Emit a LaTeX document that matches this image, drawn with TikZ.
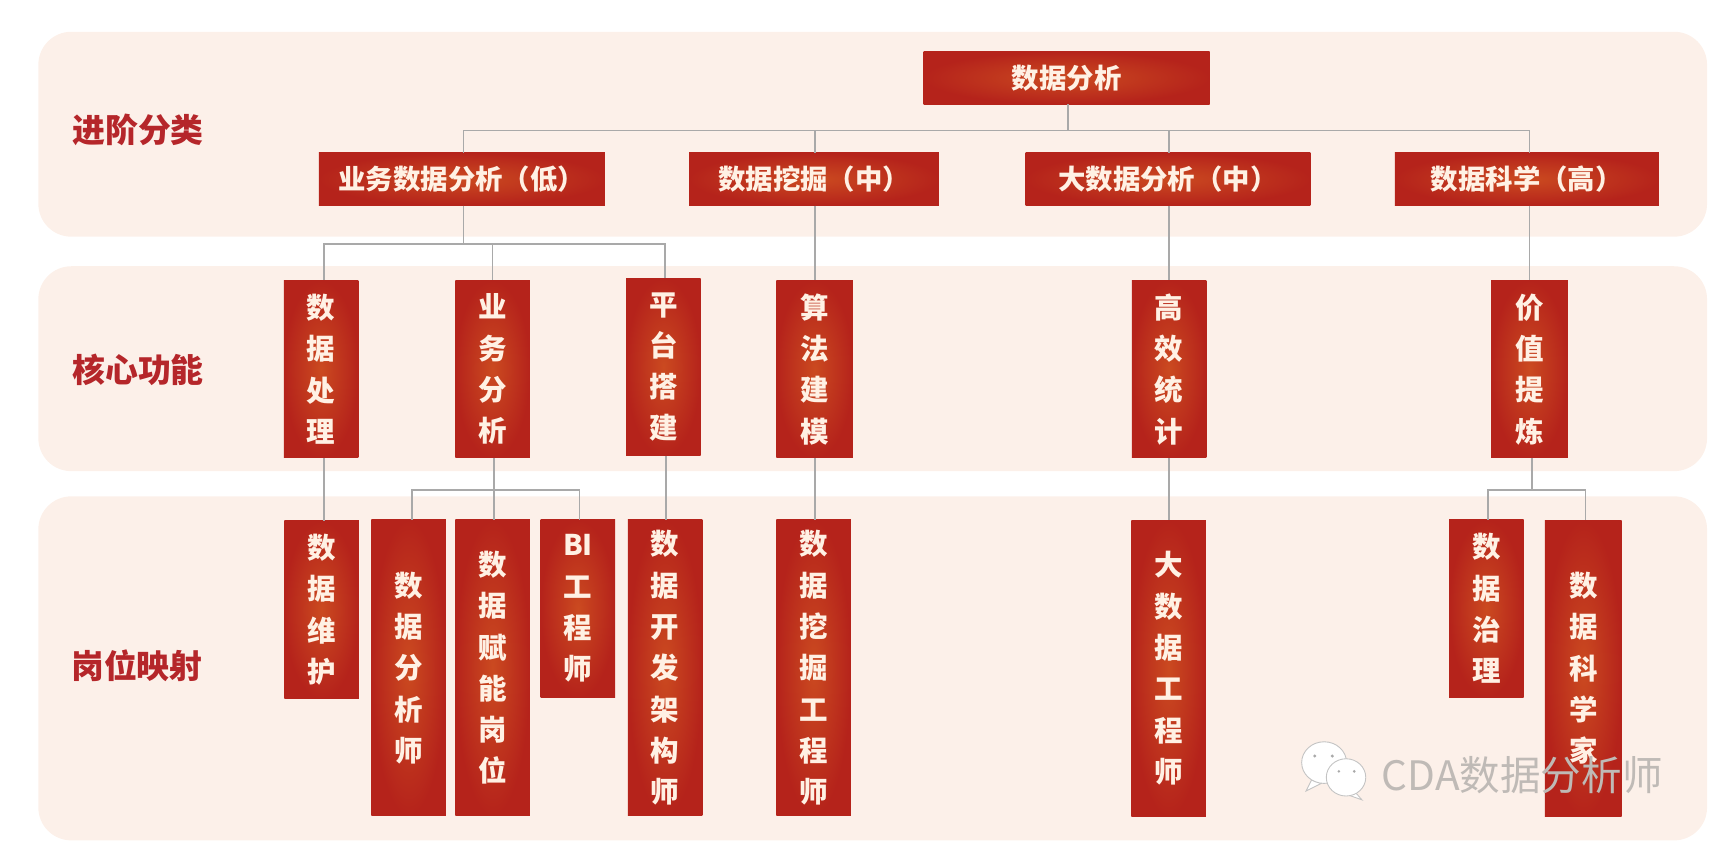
\documentclass[tikz,border=0pt]{standalone}
\usepackage{fontspec}
\setmainfont{Noto Sans CJK SC}
\definecolor{bardark}{HTML}{B5231B}
\definecolor{barglow}{HTML}{CB4A20}
\definecolor{bartext}{HTML}{FFF1E4}
\definecolor{panelfill}{HTML}{FCF0E9}
\definecolor{labelred}{HTML}{B5262A}
\definecolor{linegray}{HTML}{A9A9A9}
\definecolor{markgray}{HTML}{BFBAB6}

\begin{document}
\begin{tikzpicture}[x=1pt,y=-1pt]
\tikzset{panel/.style = {shape=rectangle,fill=panelfill,rounded corners=30pt,minimum width=1523pt}}
\tikzset{grouplabel/.style = {text=labelred,font=\fontsize{30}{34}\selectfont\bfseries}}
\tikzset{bar/.style = {shape=rectangle,inner color=barglow,outer color=bardark,text=bartext,inner sep=0pt}}
\tikzset{hbar/.style = {bar,minimum height=48pt,font=\fontsize{25}{28}\selectfont\bfseries}}
\tikzset{vbar/.style = {bar,minimum width=68pt,align=center,font=\fontsize{26}{37.7}\selectfont\bfseries}}
\tikzset{shortbar/.style = {vbar,minimum height=162pt}}
\tikzset{tallbar/.style = {vbar,minimum height=270pt}}
\tikzset{edge/.style = {draw=linegray,line width=1.6pt}}
\tikzset{bubble/.style = {fill=white,draw=linegray!70,line width=0.8pt}}
\useasboundingbox (0,0) rectangle (1568,787);
% panels
\node[panel,minimum height=187pt] (panelclass) at (796.5,122.5) {};
\node[panel,minimum height=187pt] (panelcore) at (796.5,336.5) {};
\node[panel,minimum height=314pt] (paneljob) at (796.5,610) {};
\node[grouplabel] (labelclass) at (126,119) {进阶分类};
\node[grouplabel] (labelcore) at (126,338) {核心功能};
\node[grouplabel] (labeljob) at (125,608) {岗位映射};
% vertices
\node[hbar,minimum width=261pt] (root) at (973.5,71) {数据分析};
\node[hbar,minimum width=261pt] (biz) at (421.5,163.5) {业务数据分析（低）};
\node[hbar,minimum width=228pt] (mine) at (743,163.5) {数据挖掘（中）};
\node[hbar,minimum width=260pt] (big) at (1066,163.5) {大数据分析（中）};
\node[hbar,minimum width=241pt] (sci) at (1393.5,163.5) {数据科学（高）};
\node[shortbar] (proc) at (293,337) {数\\据\\处\\理};
\node[shortbar] (serv) at (449.5,337) {业\\务\\分\\析};
\node[shortbar] (plat) at (605.5,335) {平\\台\\搭\\建};
\node[shortbar,minimum width=70pt] (algo) at (743.5,337) {算\\法\\建\\模};
\node[shortbar] (stat) at (1067,337) {高\\效\\统\\计};
\node[shortbar,minimum width=70pt] (val) at (1396,337) {价\\值\\提\\炼};
\node[shortbar] (ops) at (293.5,556.5) {数\\据\\维\\护};
\node[tallbar] (analyst) at (373,609.5) {数\\据\\分\\析\\师};
\node[tallbar] (enable) at (449.5,609.5) {数\\据\\赋\\能\\岗\\位};
\node[shortbar] (bi) at (527.5,555.5) {BI\\工\\程\\师};
\node[tallbar] (arch) at (607,609.5) {数\\据\\开\\发\\架\\构\\师};
\node[tallbar] (miner) at (742.5,609.5) {数\\据\\挖\\掘\\工\\程\\师};
\node[tallbar] (eng) at (1066.5,610) {大\\数\\据\\工\\程\\师};
\node[shortbar] (gov) at (1356.5,555.5) {数\\据\\治\\理};
\node[tallbar,minimum width=70pt] (scient) at (1445,610) {数\\据\\科\\学\\家};
\coordinate (rootbus) at (975,119);
\coordinate (bizbus) at (423,223);
\coordinate (servbus) at (451,447);
\coordinate (valbus) at (1398,447);
%edges
\draw[edge] (root.south -| rootbus) -- (rootbus);
\draw[edge] (rootbus) -| ([xshift=1.5pt]biz.north);
\draw[edge] (rootbus) -| ([xshift=1pt]mine.north);
\draw[edge] (rootbus) -| ([xshift=1pt]big.north);
\draw[edge] (rootbus) -| ([xshift=2.5pt]sci.north);
\draw[edge] (biz.south -| bizbus) -- (bizbus);
\draw[edge] (bizbus) -| ([xshift=3pt]proc.north);
\draw[edge] (bizbus) -| (serv.north);
\draw[edge] (bizbus) -| ([xshift=1.5pt]plat.north);
\draw[edge] ([xshift=1pt]mine.south) -- ([xshift=1pt]mine.south |- algo.north);
\draw[edge] ([xshift=1pt]big.south) -- ([xshift=1pt]big.south |- stat.north);
\draw[edge] ([xshift=2.5pt]sci.south) -- ([xshift=2.5pt]sci.south |- val.north);
\draw[edge] ([xshift=3pt]proc.south) -- ([xshift=3pt]proc.south |- ops.north);
\draw[edge] (serv.south -| servbus) -- (servbus);
\draw[edge] (servbus) -| ([xshift=3pt]analyst.north);
\draw[edge] (servbus) -- (servbus |- enable.north);
\draw[edge] (servbus) -| ([xshift=1.5pt]bi.north);
\draw[edge] ([xshift=2pt]plat.south) -- ([xshift=2pt]plat.south |- arch.north);
\draw[edge] (algo.south) -- (algo.south |- miner.north);
\draw[edge] (stat.south) -- (stat.south |- eng.north);
\draw[edge] (val.south -| valbus) -- (valbus);
\draw[edge] (valbus) -| ([xshift=1.5pt]gov.north);
\draw[edge] (valbus) -| ([xshift=2pt]scient.north);
% watermark
\draw[bubble] (1197,712) -- (1192,722) -- (1206,715) -- cycle;
\draw[bubble] (1208.5,696) ellipse (20.5pt and 19pt);
\draw[bubble] (1236,722) -- (1243,730) -- (1226,724) -- cycle;
\draw[bubble] (1228.5,709.5) ellipse (18pt and 17pt);
\fill[linegray] (1200,690) circle (1.5pt) (1216,690) circle (1.5pt) (1222,704) circle (1.3pt) (1236,704) circle (1.3pt);
\node[text=markgray,anchor=west,inner sep=0pt,font=\fontsize{37}{40}\selectfont] (mark) at (1261,707) {CDA数据分析师};
\end{tikzpicture}
\end{document}
